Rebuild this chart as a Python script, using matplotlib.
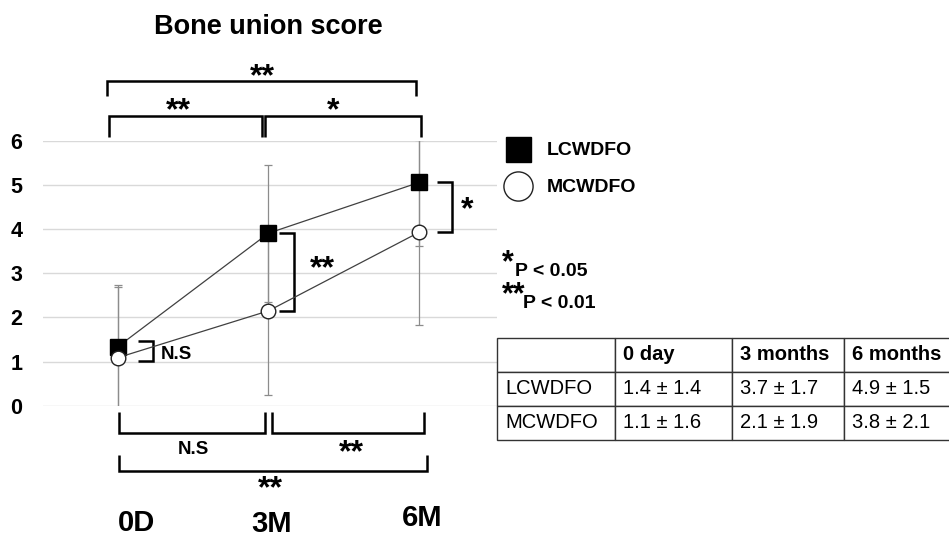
import matplotlib
matplotlib.use("Agg")
import matplotlib.pyplot as plt
from matplotlib.lines import Line2D

plt.rcParams["font.family"] = ["Liberation Sans", "DejaVu Sans"]

# data
timepoints = ["0D", "3M", "6M"]
lc_mean = [1.34, 3.91, 5.06]
lc_err = [1.4, 1.55, 1.45]
mc_mean = [1.09, 2.15, 3.93]
mc_err = [1.6, 1.9, 2.1]
groups = ["LCWDFO", "MCWDFO"]
col_labels = ["", "0 day", "3 months", "6 months"]
table_rows = [
    ["LCWDFO", "1.4 \u00b1 1.4", "3.7 \u00b1 1.7", "4.9 \u00b1 1.5"],
    ["MCWDFO", "1.1 \u00b1 1.6", "2.1 \u00b1 1.9", "3.8 \u00b1 2.1"],
]
yticks = [0, 1, 2, 3, 4, 5, 6]

W, H = 949, 538
fig = plt.figure(figsize=(W / 100, H / 100), dpi=100)


def fpos(x, y):
    return x / W, 1 - y / H


ax = fig.add_axes([43 / W, (H - 405.7) / H, (497 - 43) / W, (405.7 - 141) / H])
xs = list(range(len(timepoints)))

ax.errorbar(xs, lc_mean, yerr=lc_err, fmt="none", ecolor="#8c8c8c",
            elinewidth=0.9, capsize=3, capthick=0.9, zorder=2)
ax.errorbar(xs, mc_mean, yerr=mc_err, fmt="none", ecolor="#8c8c8c",
            elinewidth=0.9, capsize=3, capthick=0.9, zorder=2)
ax.plot(xs, lc_mean, color="#404040", lw=0.9, marker="s", ms=11.5,
        mfc="k", mec="k", zorder=4)
ax.plot(xs, mc_mean, color="#404040", lw=0.9, marker="o", ms=10.5,
        mfc="w", mec="#222222", mew=1, zorder=4)

ax.set_xlim(-0.498, 2.518)
ax.set_ylim(0, 6)
ax.set_yticks(yticks)
ax.set_yticklabels([str(t) for t in yticks], fontsize=15.5, fontweight="bold")
ax.tick_params(axis="y", length=0, pad=15)
ax.set_xticks([])
ax.grid(axis="y", color="#d9d9d9", lw=1)
ax.set_axisbelow(True)
for s in ax.spines.values():
    s.set_visible(False)

bk = dict(color="k", lw=1.8, clip_on=False, solid_capstyle="butt",
          solid_joinstyle="miter")
star = dict(fontsize=23, fontweight="bold", ha="center", va="center")


def hbracket(x0, x1, y, yleg):
    ax.plot([x0, x0, x1, x1], [yleg, y, y, yleg], **bk)


def vbracket(x, top, bot, w=0.1):
    ax.plot([x, x + w, x + w, x], [top, top, bot, bot], **bk)


# brackets above
hbracket(-0.07, 1.98, 7.35, 7.02)
ax.text(0.96, 7.45, "**", **star)
hbracket(-0.06, 0.96, 6.57, 6.09)
hbracket(0.98, 2.01, 6.57, 6.09)
ax.text(0.4, 6.67, "**", **star)
ax.text(1.43, 6.67, "*", **star)

# brackets below
hbracket(0.01, 0.98, -0.62, -0.14)
hbracket(1.02, 2.03, -0.62, -0.14)
ax.text(0.5, -1.0, "N.S", fontsize=13.5, fontweight="bold", ha="center", va="center")
ax.text(1.55, -1.08, "**", **star)
hbracket(0.01, 2.05, -1.48, -1.12)
ax.text(1.01, -1.9, "**", **star)

# brackets between groups
vbracket(0.13, lc_mean[0] + 0.13, mc_mean[0] - 0.07)
ax.text(0.39, 1.15, "N.S", fontsize=13.5, fontweight="bold", ha="center", va="center")
vbracket(1.07, lc_mean[1], mc_mean[1])
ax.text(1.36, 3.1, "**", **star)
vbracket(2.12, lc_mean[2], mc_mean[2])
ax.text(2.32, 4.42, "*", **star)

# time labels (staggered as in original)
lab_dx = [0.12, 1.02, 2.02]
lab_y = [-2.65, -2.68, -2.55]
for lab, x, y in zip(timepoints, lab_dx, lab_y):
    ax.text(x, y, lab, fontsize=21, fontweight="bold", ha="center", va="center")

fig.text(*fpos(268, 27), "Bone union score", fontsize=19.5, fontweight="bold",
         ha="center", va="center")

# legend
handles = [
    Line2D([], [], ls="none", marker="s", ms=18, mfc="k", mec="k"),
    Line2D([], [], ls="none", marker="o", ms=21, mfc="w", mec="#222222", mew=1),
]
ax.legend(handles, groups, loc="upper left", bbox_to_anchor=fpos(495, 134),
          bbox_transform=fig.transFigure, frameon=False,
          prop=dict(weight="bold", size=14), handletextpad=0.65,
          labelspacing=1.0, handlelength=1.6, borderaxespad=0)

# p-value notes
fig.text(*fpos(502, 263), "*", fontsize=22, fontweight="bold", va="center")
fig.text(*fpos(515, 271), "P < 0.05", fontsize=14, fontweight="bold", va="center")
fig.text(*fpos(502, 295), "**", fontsize=22, fontweight="bold", va="center")
fig.text(*fpos(523, 303), "P < 0.01", fontsize=14, fontweight="bold", va="center")

# table
tax = fig.add_axes([497 / W, (H - 440) / H, (961 - 497) / W, (440 - 338) / H])
tax.axis("off")
tbl = tax.table(cellText=table_rows, colLabels=col_labels, cellLoc="left",
                colLoc="left", bbox=[0, 0, 1, 1], colWidths=[118, 117, 112, 117])
tbl.auto_set_font_size(False)
for (r, c), cell in tbl.get_celld().items():
    cell.set_edgecolor("#333333")
    cell.set_linewidth(1.0)
    cell.PAD = 0.07
    t = cell.get_text()
    t.set_fontsize(14.5)
    if r == 0:
        t.set_fontweight("bold")

fig.savefig("out.png", dpi=100)
